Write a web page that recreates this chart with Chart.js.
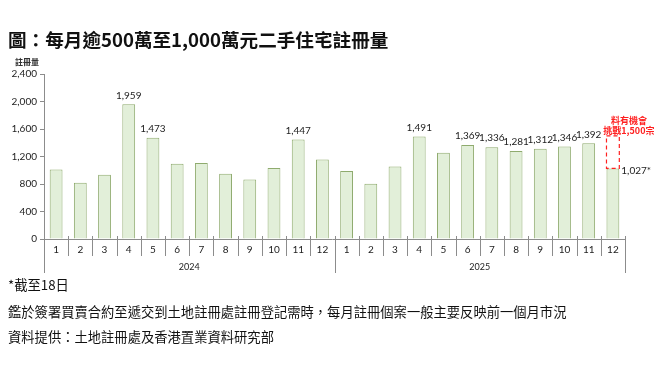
<!DOCTYPE html>
<html>
<head>
<meta charset="utf-8">
<script src="https://cdn.jsdelivr.net/npm/chart.js@4.4.1/dist/chart.umd.min.js"></script>
<style>
html, body { margin: 0; padding: 0; background: #fff; }
body { width: 666px; height: 367px; position: relative; overflow: hidden; font-family: "Noto Sans CJK TC", sans-serif; }
#chart { position: absolute; left: 0; top: 0; }
.txt { position: absolute; white-space: nowrap; color: #111; line-height: 1; }
</style>
</head>
<body>
<canvas id="chart" width="666" height="367"></canvas>
<div class="txt" style="left:8px;top:30px;font-size:18.6px;font-weight:bold;">圖：每月逾500萬至1,000萬元二手住宅註冊量</div>
<div class="txt" style="left:15px;top:58px;font-size:8px;font-weight:bold;color:#333;">註冊量</div>
<div class="txt" style="left:8px;top:278px;font-size:13.3px;">*截至18日</div>
<div class="txt" style="left:8px;top:305px;font-size:13.3px;">鑑於簽署買賣合約至遞交到土地註冊處註冊登記需時，每月註冊個案一般主要反映前一個月市況</div>
<div class="txt" style="left:8px;top:330px;font-size:13.3px;">資料提供：土地註冊處及香港置業資料研究部</div>
<script>
// 數據
const months = ['1', '2', '3', '4', '5', '6', '7', '8', '9', '10', '11', '12'];
const years = ['2024', '2025'];
const reg2024 = [1012, 818, 935, 1959, 1473, 1095, 1104, 949, 866, 1031, 1447, 1158];
const reg2025 = [988, 803, 1056, 1491, 1256, 1369, 1336, 1281, 1312, 1346, 1392, 1027];
const labelMonths2024 = [4, 5, 11];
const labelMonths2025 = [4, 6, 7, 8, 9, 10, 11];
const yTicks = [0, 400, 800, 1200, 1600, 2000, 2400];
const target = 1500;
const targetText = ['料有機會', '挑戰1,500宗'];

const categories = years.flatMap(y => months.map(m => y + '-' + m));
const values = reg2024.concat(reg2025);
const labelIdx = labelMonths2024.map(m => m - 1).concat(labelMonths2025.map(m => 11 + m));
const lastIdx = values.length - 1;

const numFont = '10px Lato, "Liberation Sans", sans-serif';

// 數值標籤及預測框
const labelPlugin = {
    id: 'labels',
    afterDatasetsDraw(chart) {
        const ctx = chart.ctx;
        const meta = chart.getDatasetMeta(0);
        const yScale = chart.scales.y;
        ctx.save();
        ctx.fillStyle = '#222';
        ctx.font = numFont;
        ctx.textAlign = 'center';
        ctx.textBaseline = 'bottom';
        labelIdx.forEach(i => {
            const bar = meta.data[i];
            ctx.fillText(values[i].toLocaleString('en-US'), bar.x, bar.y - 4);
        });
        // 最後一個月
        const last = meta.data[lastIdx];
        ctx.textAlign = 'left';
        ctx.textBaseline = 'middle';
        ctx.fillText(values[lastIdx].toLocaleString('en-US') + '*', last.x + last.width / 2 + 2, last.y + 2);

        const yT = yScale.getPixelForValue(target);
        ctx.strokeStyle = '#ff2020';
        ctx.lineWidth = 1.2;
        ctx.setLineDash([4, 3]);
        ctx.strokeRect(last.x - last.width / 2, yT, last.width, last.y - yT);
        ctx.setLineDash([]);

        ctx.fillStyle = '#ff2020';
        ctx.font = 'bold 9px "Noto Sans CJK TC", sans-serif';
        ctx.textAlign = 'center';
        ctx.fillText(targetText[0], last.x + 16, yT - 15);
        ctx.fillText(targetText[1], last.x + 16, yT - 5);
        ctx.restore();
    }
};

// 兩層 X 軸
const axisPlugin = {
    id: 'twoLevelAxis',
    afterDraw(chart) {
        const ctx = chart.ctx;
        const area = chart.chartArea;
        const xScale = chart.scales.x;
        const n = categories.length;
        const cw = (area.right - area.left) / n;
        const y0 = area.bottom;
        ctx.save();
        ctx.strokeStyle = '#8c8c8c';
        ctx.lineWidth = 1;
        ctx.beginPath();
        ctx.moveTo(area.left - 4, y0 + 0.5);
        ctx.lineTo(area.right, y0 + 0.5);
        for (let i = 0; i <= n; i++) {
            const x = Math.round(area.left + i * cw) + 0.5;
            const bottom = (i % 12 === 0) ? y0 + 34 : y0 + 17;
            ctx.moveTo(x, y0 - 3);
            ctx.lineTo(x, bottom);
        }
        ctx.stroke();

        ctx.fillStyle = '#222';
        ctx.font = numFont;
        ctx.textAlign = 'center';
        ctx.textBaseline = 'middle';
        for (let i = 0; i < n; i++) {
            ctx.fillText(months[i % 12], xScale.getPixelForValue(i), y0 + 11);
        }
        ctx.font = '9px Lato, "Liberation Sans", sans-serif';
        years.forEach((yr, k) => {
            const x = area.left + (k * 12 + 6) * cw;
            ctx.fillText(yr, x, y0 + 28);
        });
        ctx.restore();
    }
};

new Chart(document.getElementById('chart').getContext('2d'), {
    type: 'bar',
    data: {
        labels: categories,
        datasets: [{
            data: values,
            backgroundColor: '#e2efd9',
            borderColor: '#8fab6e',
            borderWidth: 1,
            barPercentage: 0.53,
            categoryPercentage: 1
        }]
    },
    options: {
        responsive: false,
        animation: false,
        layout: { padding: { left: 0, top: 74, right: 41, bottom: 128 } },
        plugins: { legend: { display: false }, tooltip: { enabled: false } },
        scales: {
            x: { display: false },
            y: {
                min: 0,
                max: 2400,
                afterFit: s => { s.width = 44; },
                afterBuildTicks: s => { s.ticks = yTicks.map(v => ({ value: v })); },
                grid: { drawOnChartArea: false, drawTicks: true, tickLength: 4, color: '#8c8c8c' },
                border: { color: '#8c8c8c' },
                ticks: {
                    padding: 3,
                    color: '#222',
                    font: { family: 'Lato, "Liberation Sans", sans-serif', size: 10 },
                    callback: v => v.toLocaleString('en-US')
                }
            }
        }
    },
    plugins: [labelPlugin, axisPlugin]
});
</script>
</body>
</html>
